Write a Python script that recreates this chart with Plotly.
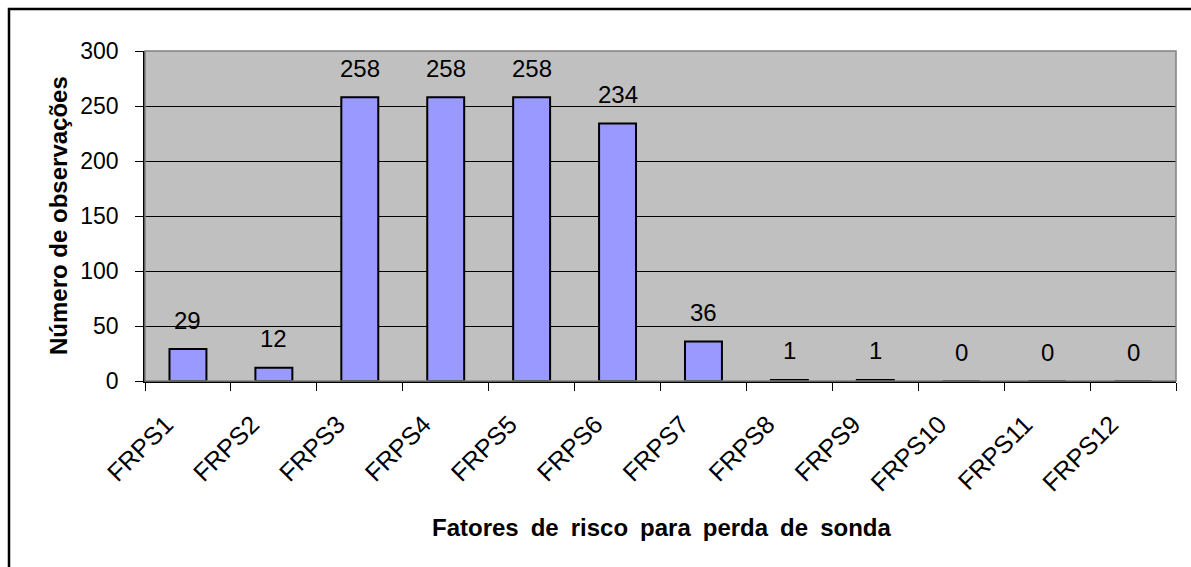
import plotly.graph_objects as go

categories = ["FRPS1", "FRPS2", "FRPS3", "FRPS4", "FRPS5", "FRPS6",
              "FRPS7", "FRPS8", "FRPS9", "FRPS10", "FRPS11", "FRPS12"]
values = [29, 12, 258, 258, 258, 234, 36, 1, 1, 0, 0, 0]
y_ticks = [0, 50, 100, 150, 200, 250, 300]

W, H = 1191, 567
L, R, T, B = 145, 15, 51, 186
pw, ph = W - L - R, H - T - B

FONT = "Liberation Sans, Arial, sans-serif"

fig = go.Figure()
fig.add_trace(go.Bar(
    x=categories, y=values,
    marker=dict(color="#9999FF", line=dict(color="#000000", width=2)),
    width=0.43,
    hoverinfo="x+y",
))

for c, v in zip(categories, values):
    fig.add_annotation(x=c, y=v, text=str(v), showarrow=False,
                       yanchor="middle", yshift=29,
                       font=dict(family=FONT, size=24, color="#000"))

fig.add_annotation(xref="paper", yref="paper",
                   x=(661 - L) / pw, y=-(527 - (T + ph)) / ph,
                   text="<b>" + "Fatores de risco para perda de sonda".replace(" ", "\u2002") + "</b>",
                   showarrow=False, xanchor="center", yanchor="middle",
                   font=dict(family=FONT, size=24, color="#000"))
fig.add_annotation(xref="paper", yref="paper",
                   x=(58 - L) / pw, y=0.5, textangle=-90,
                   text="<b>Número de observações</b>",
                   showarrow=False, xanchor="center", yanchor="middle",
                   font=dict(family=FONT, size=24, color="#000"))

# outer frame
fig.add_shape(type="rect", xref="paper", yref="paper",
              x0=(9 - L) / pw, x1=(W + 20 - L) / pw,
              y0=-(H + 20 - (T + ph)) / ph, y1=1 + (T - 9) / ph,
              line=dict(color="#000", width=2.5), layer="below")
# plot area border (gray)
fig.add_shape(type="rect", xref="paper", yref="paper", x0=0, x1=1, y0=0, y1=1,
              line=dict(color="#808080", width=1.5), layer="above")

fig.update_layout(
    width=W, height=H,
    margin=dict(l=L, r=R, t=T, b=B, autoexpand=False),
    paper_bgcolor="#FFFFFF", plot_bgcolor="#C0C0C0",
    showlegend=False,
    bargap=0.57,
    font=dict(family=FONT, size=23, color="#000"),
    xaxis=dict(
        type="category", tickangle=-45, ticks="outside", tickson="boundaries",
        ticklen=8, tickcolor="#000", tickwidth=1,
        showline=True, linecolor="#000", linewidth=1.5, mirror=False,
        showgrid=False, automargin=False,
        ticklabelstandoff=17, ticklabelshift=-22,
        tickfont=dict(family=FONT, size=25, color="#000"),
    ),
    yaxis=dict(
        range=[0, 300], tickvals=y_ticks, ticks="outside", ticklen=8,
        tickcolor="#000", tickwidth=1,
        showline=True, linecolor="#000", linewidth=1.5,
        showgrid=True, gridcolor="#000", gridwidth=1,
        zeroline=False, automargin=False, ticklabelstandoff=12,
        tickfont=dict(family=FONT, size=23, color="#000"),
    ),
)

fig.write_html("out.html", config={"displayModeBar": False},
               post_script="document.body.style.margin='0';document.body.style.padding='0';")
